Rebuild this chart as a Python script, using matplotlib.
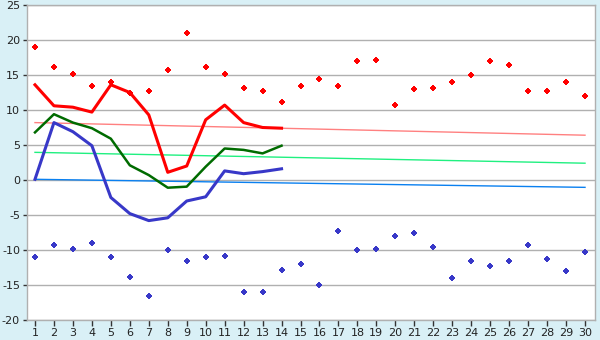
import matplotlib
matplotlib.use("Agg")
import matplotlib.pyplot as plt
import numpy as np

days = list(range(1, 31))
max_points = [19.0, 16.1, 15.1, 13.4, 14.0, 12.5, 12.7, 15.7, 21.0, 16.1,
              15.1, 13.1, 12.7, 11.2, 13.4, 14.4, 13.5, 17.0, 17.2, 10.7,
              13.0, 13.1, 14.0, 15.0, 17.0, 16.4, 12.7, 12.7, 14.0, 12.0]
min_points = [-11.0, -9.3, -9.8, -9.0, -11.0, -13.9, -16.6, -10.0, -11.5, -11.0,
              -10.8, -16.0, -16.0, -12.8, -12.0, -15.0, -7.3, -10.0, -9.8, -8.0,
              -7.6, -9.5, -14.0, -11.5, -12.3, -11.6, -9.3, -11.3, -13.0, -10.3]
line_days = list(range(1, 15))
avg_max = [13.6, 10.6, 10.4, 9.7, 13.6, 12.5, 9.3, 1.1, 2.0, 8.6, 10.7, 8.2, 7.5, 7.4]
avg_mean = [6.8, 9.4, 8.2, 7.4, 5.9, 2.1, 0.7, -1.1, -0.95, 1.9, 4.5, 4.3, 3.8, 4.9]
avg_min = [0.1, 8.2, 6.9, 4.9, -2.5, -4.8, -5.8, -5.4, -3.0, -2.4, 1.3, 0.9, 1.2, 1.6]
trend_days = [1, 30]
trend_max = [8.2, 6.4]
trend_mean = [3.95, 2.4]
trend_min = [0.1, -1.05]
y_ticks = [-20, -15, -10, -5, 0, 5, 10, 15, 20, 25]

bg = '#d9f0f6'
fig = plt.figure(figsize=(6, 3.4), dpi=100, facecolor=bg)
ax = fig.add_axes([27/600, 20/340, 568/600, 315/340])
ax.set_facecolor('white')

for v in y_ticks:
    ax.axhline(v, color='#b0b0b0', lw=1.0, zorder=1)

ax.plot(trend_days, trend_max, color='#ff8080', lw=1.0, zorder=2)
ax.plot(trend_days, trend_mean, color='#20f080', lw=1.0, zorder=2)
ax.plot(trend_days, trend_min, color='#0a80f0', lw=1.0, zorder=2)

ax.plot(line_days, avg_max, color='#ff0000', lw=2.2, zorder=3)
ax.plot(line_days, avg_mean, color='#006b00', lw=1.8, zorder=3)
ax.plot(line_days, avg_min, color='#3838c8', lw=2.2, zorder=3)

for pts, col in ((max_points, '#ff0000'), (min_points, '#3838c8')):
    ax.plot(days, pts, linestyle='none', marker='P', markersize=5,
            color=col, markeredgewidth=0, zorder=4)
    ax.plot(days, pts, linestyle='none', marker='s', markersize=2.2,
            color=col, markeredgewidth=0, zorder=4)

ax.set_xlim(1 - 8/19, 30 + 10/19)
ax.set_ylim(-20, 25)
ax.set_xticks(days)
ax.set_xticklabels([str(d) for d in days])
ax.set_yticks(y_ticks)
ax.set_yticklabels([str(v) for v in y_ticks])

for s in ax.spines.values():
    s.set_color('#b0b0b0')
    s.set_linewidth(1.0)

ax.tick_params(axis='x', length=4, width=1, color='#333333', pad=2,
               labelsize=8, labelcolor='#222222')
ax.tick_params(axis='y', length=3, width=1, color='#333333', pad=2,
               labelsize=8, labelcolor='#222222')

fig.savefig('out.png', dpi=100, facecolor=bg)
